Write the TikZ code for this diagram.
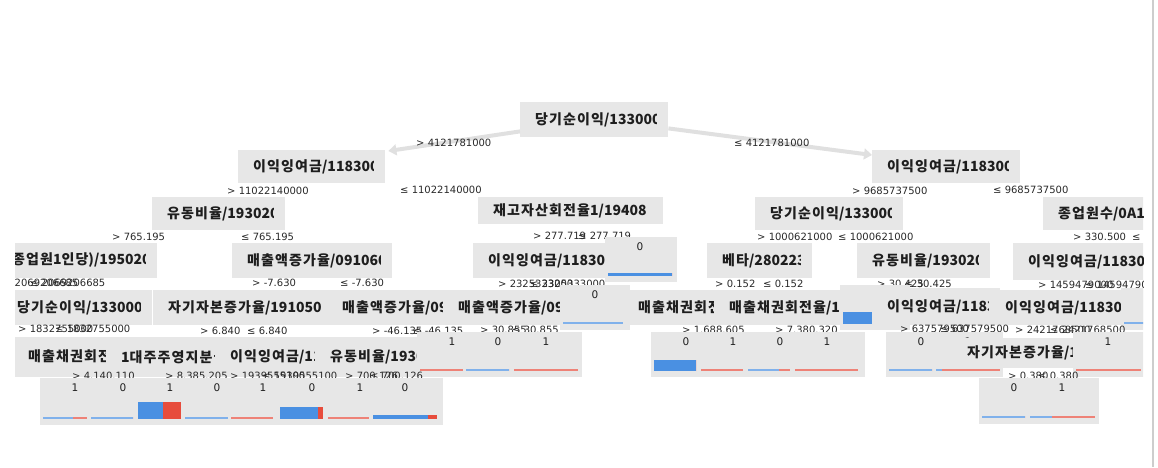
\documentclass[tikz,border=0pt]{standalone}
\usepackage{fontspec}
\newfontfamily\kr{Noto Sans CJK KR}
\newfontfamily\ks{Noto Sans CJK KR}[LetterSpace=8]
\newfontfamily\dv{DejaVu Sans}
\usetikzlibrary{calc,arrows.meta}
\definecolor{boxgrey}{RGB}{231,231,231}
\definecolor{barblue}{RGB}{74,144,226}
\definecolor{barred}{RGB}{231,76,60}
\definecolor{conngrey}{RGB}{224,224,224}
\definecolor{txt}{RGB}{30,30,30}
\definecolor{lbltxt}{RGB}{40,40,40}
\definecolor{frameline}{RGB}{205,205,205}
\tikzset{
 dbox/.style={fill=boxgrey, draw=none, inner sep=0pt, rectangle},
 dtext/.style={font=\kr\bfseries\fontsize{14}{14}\selectfont, text=txt, inner sep=0pt, anchor=west},
 elabel/.style={font=\dv\fontsize{10}{10}\selectfont, text=lbltxt, inner sep=0pt, anchor=west},
 leafnum/.style={font=\dv\fontsize{10.5}{10.5}\selectfont, text=txt, inner sep=0pt},
 conn/.style={draw=conngrey, line width=4pt, -{Triangle[width=11pt,length=8pt]}},
}
% decision node: name, x1, y1, x2, y2, korean part, number part
\newcommand\dn[7]{%
 \node[dbox, anchor=north west, minimum width={#4-(#2)}, minimum height={#5-(#3)}] (#1) at (#2,#3) {};
 \begin{scope}
  \clip ({#2+14},#3) rectangle ({#4-12},#5);
  \node[dtext] (#1-t) at ({#2+15},{(#3+#5)/2}) {{\ks #6}#7};
 \end{scope}}
% leaf: name, x, y, w, h, number, bar width, blue fraction, bar height
\newcommand\lf[9]{%
 \ifdim #9pt<3pt \def\lfb{barblue!70!white}\def\lfr{barred!70!white}%
 \else \def\lfb{barblue}\def\lfr{barred}\fi
 \node[dbox, anchor=north west, minimum width={#4}, minimum height={#5}] (#1) at (#2,#3) {};
 \node[leafnum] (#1-n) at ({#2+35},{#3+10}) {#6};
 \fill[\lfb] ({#2+3},{#3+#5-6}) rectangle ({#2+3+#7*#8},{#3+#5-6-#9});
 \fill[\lfr] ({#2+3+#7*#8},{#3+#5-6}) rectangle ({#2+3+#7},{#3+#5-6-#9});}
\newcommand\el[3]{\node[elabel] at (#1,#2) {#3};}

\begin{document}
\begin{tikzpicture}[x=1pt,y=-1pt]
\useasboundingbox (0,0) rectangle (1158,467);
\begin{scope}
\clip (15,0) rectangle (1143,467);
% level 0/1
\dn{R}{520}{102}{668}{137}{당기순이익}{/133000}
\dn{L1a}{238}{150}{385}{183}{이익잉여금}{/118300}
\dn{L1b}{872}{150}{1020}{183}{이익잉여금}{/118300}
\draw[conn] ($(R.south west)+(0,-6)$) -- ($(L1a.north east)+(3,1)$);
\draw[conn] ($(R.south east)+(0,-9)$) -- ($(L1b.north west)+(0,5)$);
\el{416}{143}{> 4121781000}
\el{734}{143}{≤ 4121781000}
\el{227}{191}{> 11022140000}
\el{400}{190}{≤ 11022140000}
\el{852}{191}{> 9685737500}
\el{993}{190}{≤ 9685737500}
% level 2
\dn{L2a}{152}{197}{285}{230}{유동비율}{/193020}
\dn{L2b}{478}{197}{663}{224}{재고자산회전율}{1/19408}
\dn{L2c}{755}{197}{903}{230}{당기순이익}{/133000}
\dn{L2d}{1043}{197}{1190}{230}{종업원수}{/0A1000}
\el{112}{237}{> 765.195}
\el{241}{237}{≤ 765.195}
\el{533}{236}{> 277.719}
\el{578}{236}{≤ 277.719}
\el{757}{237}{> 1000621000}
\el{838}{237}{≤ 1000621000}
\el{1073}{237}{> 330.500}
\el{1132}{237}{≤ 330.500}
% level 3
\dn{L3a}{-3}{243}{157}{278}{종업원}{1{\ks 인당}{)}/195020}
\dn{L3b}{232}{243}{392}{278}{매출액증가율}{/091060}
\dn{L3c}{473}{243}{620}{278}{이익잉여금}{/118300}
\lf{Lf1}{605}{237}{72}{45}{0}{64}{1}{3}
\dn{L3d}{707}{243}{812}{278}{베타}{/280223}
\dn{L3e}{857}{243}{990}{278}{유동비율}{/193020}
\dn{L3f}{1013}{243}{1160}{280}{이익잉여금}{/118300}
\el{3}{283}{> 2069206685}
\el{30}{283}{≤ 2069206685}
\el{252}{283}{> -7.630}
\el{340}{283}{≤ -7.630}
\el{498}{284}{> 2325333000}
\el{530}{284}{≤ 2325333000}
\el{715}{284}{> 0.152}
\el{763}{284}{≤ 0.152}
\el{877}{284}{> 30.425}
\el{905}{284}{≤ 30.425}
\el{1038}{285}{> 1459479000}
\el{1085}{285}{≤ 1459479000}
% level 4
\dn{L4a}{2}{290}{152}{325}{당기순이익}{/133000}
\dn{L4b}{153}{290}{340}{325}{자기자본증가율}{/191050}
\dn{L4c}{327}{290}{455}{325}{매출액증가율}{/091060}
\dn{L4d}{443}{290}{580}{325}{매출액증가율}{/091060}
\lf{Lf2}{560}{285}{70}{45}{0}{61}{1}{2}
\dn{L4e}{623}{290}{740}{325}{매출채권회전율}{/1}
\dn{L4f}{714}{290}{860}{325}{매출채권회전율}{/1}
\lf{Lf3}{840}{285}{70}{45}{0}{29}{1}{12}
\dn{L4g}{872}{288}{1000}{325}{이익잉여금}{/118300}
\dn{L4h}{990}{290}{1160}{325}{이익잉여금}{/118300}
\lf{Lf4}{1121}{288}{70}{42}{1}{40}{1}{2}
\el{18}{329}{> 1832755000}
\el{55}{329}{≤ 1832755000}
\el{200}{331}{> 6.840}
\el{247}{331}{≤ 6.840}
\el{372}{331}{> -46.135}
\el{413}{331}{≤ -46.135}
\el{480}{330}{> 30.855}
\el{512}{330}{≤ 30.855}
\el{682}{330}{> 1.688.605}
\el{775}{330}{> 7.380.320}
\el{900}{329}{> 637579500}
\el{940}{329}{≤ 637579500}
\el{1015}{330}{> 2421768500}
\el{1050}{330}{≤ 2421768500}
% level 5
\dn{L5a}{13}{337}{130}{377}{매출채권회전율}{/1}
\dn{L5b}{106}{337}{230}{377}{}{1{\ks 대주주영지분율}}
\dn{L5c}{215}{337}{330}{377}{이익잉여금}{/118300}
\dn{L5d}{315}{337}{430}{377}{유동비율}{/193020}
\lf{Lf5}{417}{332}{70}{45}{1}{43}{0}{2}
\lf{Lf6}{463}{332}{70}{45}{0}{43}{1}{2}
\lf{Lf7}{511}{332}{71}{45}{1}{64}{0}{2}
\lf{Lf8}{651}{332}{70}{45}{0}{42}{1}{11}
\lf{Lf9}{698}{332}{70}{45}{1}{42}{0}{2}
\lf{Lf10}{745}{332}{70}{45}{0}{42}{0.74}{2}
\lf{Lf11}{792}{332}{73}{45}{1}{63}{0}{2}
\lf{Lf12}{886}{332}{70}{45}{0}{43}{1}{2}
\lf{Lf13}{933}{332}{70}{45}{1}{64}{0.1}{2}
\dn{L5e}{952}{338}{1090}{368}{자기자본증가율}{/191050}
\lf{Lf14}{1073}{332}{72}{45}{1}{65}{0}{2}
\el{72}{376}{> 4.140.110}
\el{165}{376}{> 8.385.205}
\el{230}{376}{> 1939555100}
\el{262}{376}{≤ 1939555100}
\el{345}{376}{> 700.126}
\el{370}{376}{≤ 700.126}
\el{1008}{376}{> 0.380}
\el{1038}{376}{≤ 0.380}
% leaves
\lf{Lf15}{40}{378}{70}{47}{1}{44}{0.68}{2}
\lf{Lf16}{88}{378}{70}{47}{0}{42}{1}{2}
\lf{Lf17}{135}{378}{70}{47}{1}{43}{0.58}{17}
\lf{Lf18}{182}{378}{70}{47}{0}{43}{1}{2}
\lf{Lf19}{228}{378}{70}{47}{1}{42}{0}{2}
\lf{Lf20}{277}{378}{70}{47}{0}{43}{0.88}{12}
\lf{Lf21}{325}{378}{70}{47}{1}{41}{0}{2}
\lf{Lf22}{370}{378}{73}{47}{0}{64}{0.86}{4}
\lf{Lf23}{979}{378}{70}{46}{0}{43}{1}{2}
\lf{Lf24}{1027}{378}{72}{46}{1}{65}{0.34}{2}
\end{scope}
\draw[frameline, line width=1.2pt] (1153,0) -- (1153,467);
\end{tikzpicture}
\end{document}
